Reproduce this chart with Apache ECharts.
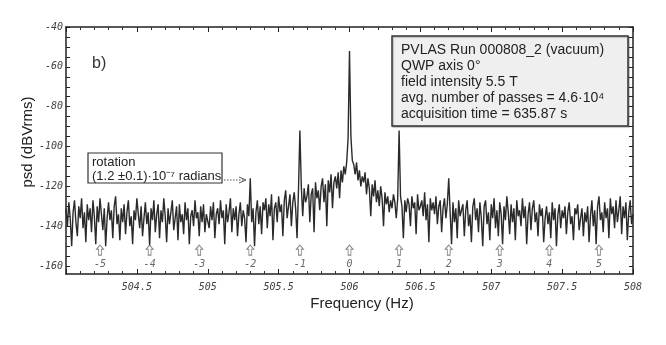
<!DOCTYPE html>
<html>
<head>
<meta charset="utf-8">
<style>
  html, body { margin: 0; padding: 0; background: #fff; }
  #chart { width: 666px; height: 345px; }
</style>
<script src="https://cdn.jsdelivr.net/npm/echarts@6/dist/echarts.min.js"></script>
</head>
<body>
<div id="chart"></div>
<script>
// spectrum sampled every 0.01 Hz from 504.00 Hz to 508.00 Hz (dBVrms)
var freqStart = 504.0
var freqStep = 0.01
var psdValues = [
  -131, -140, -128, -136, -150, -133, -127, -138, -145, -130,
  -136, -126, -141, -133, -148, -129, -137, -131, -143, -127,
  -135, -149, -130, -138, -126, -134, -142, -131, -150, -136,
  -128, -137, -132, -146, -130, -125, -139, -134, -147, -131,
  -138, -129, -144, -133, -127, -140, -135, -149, -132, -137,
  -126, -134, -141, -130, -145, -136, -128, -139, -133, -150,
  -131, -137, -127, -143, -134, -129, -146, -132, -138, -126,
  -135, -148, -131, -139, -133, -127, -142, -136, -130, -147,
  -129, -138, -134, -144, -128, -137, -131, -149, -135, -132,
  -140, -127, -136, -133, -145, -130, -138, -129, -143, -134,
  -133, -141, -130, -137, -128, -146, -134, -131, -139, -127,
  -136, -132, -149, -129, -138, -133, -126, -143, -131, -137,
  -130, -145, -134, -128, -140, -132, -136, -148, -129, -135,
  -116, -138, -131, -150, -133, -127, -139, -130, -144, -128,
  -132, -126, -141, -129, -135, -124, -147, -131, -128, -138,
  -125, -133, -129, -145, -127, -122, -136, -130, -124, -140,
  -128, -123, -131, -146, -122, -92, -120, -135, -121, -128,
  -125, -119, -138, -124, -121, -143, -118, -126, -122, -132,
  -120, -116, -128, -119, -140, -117, -123, -114, -131, -118,
  -115, -121, -113, -126, -112, -118, -110, -114, -108, -96,
  -52, -95, -107, -109, -114, -108, -117, -112, -120, -115,
  -118, -113, -124, -116, -121, -135, -119, -125, -117, -128,
  -122, -130, -120, -126, -140, -123, -129, -125, -133, -127,
  -131, -124, -128, -136, -126, -92, -125, -130, -146, -127,
  -133, -126, -129, -140, -125, -131, -128, -144, -124, -132,
  -130, -127, -135, -123, -137, -129, -148, -126, -132, -128,
  -134, -125, -139, -130, -127, -143, -131, -126, -136, -129,
  -116, -133, -149, -128, -138, -131, -146, -127, -135, -132,
  -129, -145, -132, -127, -140, -134, -148, -130, -126, -137,
  -131, -143, -128, -136, -150, -130, -127, -139, -133, -147,
  -129, -136, -126, -141, -132, -145, -128, -134, -149, -130,
  -137, -125, -133, -144, -129, -138, -131, -147, -127, -135,
  -132, -140, -126, -136, -130, -149, -134, -128, -142, -131,
  -127, -138, -133, -145, -129, -135, -131, -148, -136, -130,
  -139, -133, -146, -128, -137, -131, -150, -134, -129, -141,
  -132, -136, -130, -144, -133, -128, -139, -135, -147, -131,
  -134, -129, -142, -136, -131, -145, -133, -138, -130, -148,
  -135, -127, -140, -132, -149, -130, -125, -137, -133, -143,
  -128, -136, -131, -146, -126, -134, -130, -141, -127, -138,
  -132, -125, -144, -130, -136, -128, -147, -133, -127, -139,
  -134
]

// harmonic markers below the spectrum
var markerFreqs = [504.24, 504.59, 504.94, 505.30, 505.65, 506.00, 506.35, 506.70, 507.06, 507.41, 507.76]
var markerLabels = ['-5', '-4', '-3', '-2', '-1', '0', '1', '2', '3', '4', '5']
var markerLevel = -152

var yTicks = [-160, -140, -120, -100, -80, -60, -40]
var yMinorTicks = [-160, -155, -150, -145, -140, -135, -130, -125, -120, -115, -110, -105,
  -100, -95, -90, -85, -80, -75, -70, -65, -60, -55, -50, -45, -40]

var infoLines = [
  'PVLAS Run 000808_2 (vacuum)',
  'QWP axis 0°',
  'field intensity 5.5 T',
  'avg. number of passes = 4.6·10⁴',
  'acquisition time = 635.87 s'
]

var chart = echarts.init(document.getElementById('chart'))

var spectrum = psdValues.map(function (v, i) {
  return [+(freqStart + i * freqStep).toFixed(2), v]
})
var markers = markerFreqs.map(function (f, i) {
  return { value: [f, markerLevel], name: markerLabels[i] }
})

var tickFont = {
  fontFamily: 'DejaVu Sans Mono',
  fontStyle: 'italic',
  fontSize: 10,
  color: '#444'
}
var axisLineStyle = { color: '#222', width: 1.5 }

chart.setOption({
  backgroundColor: '#fff',
  animation: false,
  grid: { left: 66, right: 33, top: 27, bottom: 71 },
  xAxis: [
    {
      type: 'value',
      min: 504,
      max: 508,
      interval: 0.5,
      axisLine: { lineStyle: axisLineStyle },
      axisTick: { inside: true, length: 5, lineStyle: { color: '#222' } },
      minorTick: { show: true, splitNumber: 5, length: 3, lineStyle: { color: '#333' } },
      splitLine: { show: false },
      axisLabel: Object.assign({ margin: 8, showMinLabel: false, formatter: function (v) { return String(v) } }, tickFont)
    },
    {
      type: 'value',
      position: 'top',
      min: 504,
      max: 508,
      interval: 0.5,
      axisLine: { lineStyle: axisLineStyle },
      axisTick: { inside: true, length: 5, lineStyle: { color: '#222' } },
      minorTick: { show: true, splitNumber: 5, length: 3, lineStyle: { color: '#333' } },
      splitLine: { show: false },
      axisLabel: { show: false }
    }
  ],
  yAxis: [
    {
      type: 'value',
      min: -164,
      max: -40,
      axisLine: { show: true, lineStyle: axisLineStyle },
      axisTick: { show: true, inside: true, length: 4, customValues: yMinorTicks, lineStyle: { color: '#222' } },
      splitLine: { show: false },
      axisLabel: Object.assign({ margin: 3, customValues: yTicks }, tickFont)
    },
    {
      type: 'value',
      position: 'right',
      min: -164,
      max: -40,
      axisLine: { show: true, lineStyle: axisLineStyle },
      axisTick: { show: true, inside: true, length: 4, customValues: yMinorTicks, lineStyle: { color: '#222' } },
      splitLine: { show: false },
      axisLabel: { show: false }
    }
  ],
  series: [
    {
      type: 'line',
      data: spectrum,
      showSymbol: false,
      sampling: 'none',
      lineStyle: { color: '#2a2a2a', width: 1.4 },
      z: 2
    },
    {
      type: 'scatter',
      data: markers,
      symbol: 'path://M5,0 L10,5 L7,5 L7,12 L3,12 L3,5 L0,5 Z',
      symbolSize: [7, 10],
      itemStyle: { color: '#fff', borderColor: '#666', borderWidth: 1 },
      label: Object.assign({
        show: true,
        position: 'bottom',
        distance: 4,
        formatter: function (p) { return p.name }
      }, tickFont),
      z: 3
    }
  ],
  graphic: [
    {
      type: 'text',
      left: 92,
      top: 56,
      style: { text: 'b)', font: '16px "Liberation Sans"', fill: '#333' }
    },
    {
      type: 'text',
      x: 28,
      y: 142,
      rotation: Math.PI / 2,
      style: {
        text: 'psd (dBVrms)',
        font: '15px "Liberation Sans"',
        fill: '#222',
        align: 'center',
        verticalAlign: 'middle'
      }
    },
    {
      type: 'text',
      x: 362,
      y: 304,
      style: {
        text: 'Frequency (Hz)',
        font: '15px "Liberation Sans"',
        fill: '#222',
        align: 'center',
        verticalAlign: 'middle'
      }
    },
    // info box, upper right
    {
      type: 'rect',
      shape: { x: 392, y: 36, width: 236, height: 90 },
      style: { fill: '#efefef', stroke: '#333', lineWidth: 1.5, shadowColor: 'rgba(0,0,0,0.25)', shadowOffsetX: 1, shadowOffsetY: 1, shadowBlur: 1 },
      z: 10
    },
    {
      type: 'text',
      x: 401,
      y: 42,
      style: {
        text: infoLines.join('\n'),
        font: '14px "Liberation Sans"',
        lineHeight: 16,
        fill: '#222'
      },
      z: 11
    },
    // rotation annotation
    {
      type: 'rect',
      shape: { x: 88, y: 153, width: 134, height: 30 },
      style: { fill: '#fff', stroke: '#333', lineWidth: 1.2 },
      z: 10
    },
    {
      type: 'text',
      x: 92,
      y: 155,
      style: {
        text: 'rotation\n(1.2 ±0.1)·10⁻⁷ radians',
        font: '13px "Liberation Sans"',
        lineHeight: 14,
        fill: '#222'
      },
      z: 11
    },
    {
      type: 'line',
      shape: { x1: 224, y1: 180, x2: 245, y2: 180 },
      style: { stroke: '#555', lineWidth: 1, lineDash: [1.5, 1.5] },
      z: 10
    },
    {
      type: 'polyline',
      shape: { points: [[239, 177], [246, 180], [239, 183]] },
      style: { stroke: '#555', fill: 'none', lineWidth: 1 },
      z: 10
    }
  ]
})
</script>
</body>
</html>
